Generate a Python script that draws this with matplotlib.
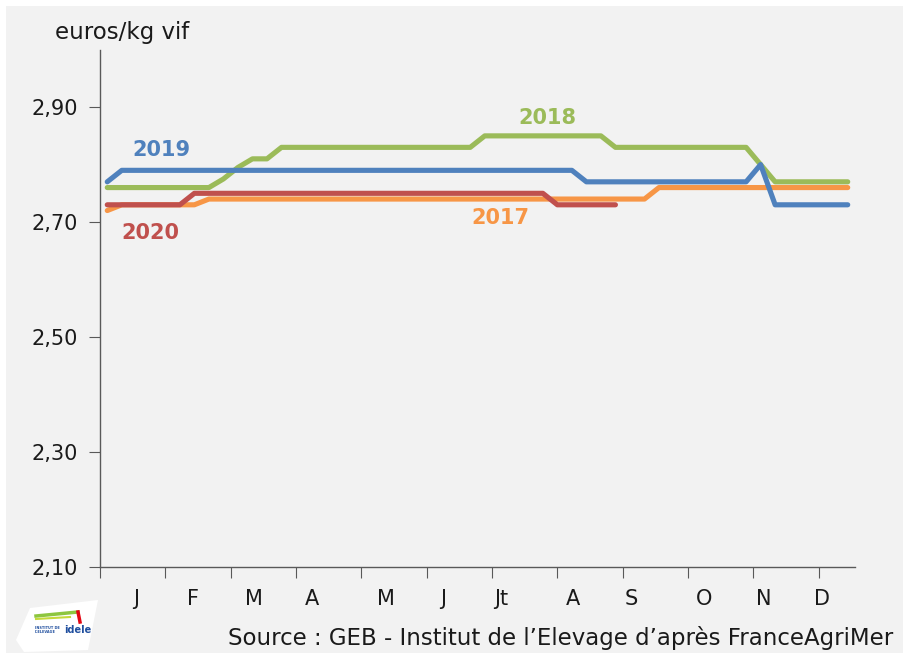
import matplotlib
matplotlib.use("Agg")
import matplotlib.pyplot as plt
from matplotlib.patches import Rectangle, Polygon

plt.rcParams['font.family'] = ['DejaVu Sans']

# ---- data (weekly prices, euros/kg vif) ----
weeks = list(range(1, 53))
prix_2017 = [2.72, 2.73, 2.73, 2.73, 2.73, 2.73, 2.73, 2.74, 2.74, 2.74,
             2.74, 2.74, 2.74, 2.74, 2.74, 2.74, 2.74, 2.74, 2.74, 2.74,
             2.74, 2.74, 2.74, 2.74, 2.74, 2.74, 2.74, 2.74, 2.74, 2.74,
             2.74, 2.74, 2.74, 2.74, 2.74, 2.74, 2.74, 2.74, 2.76, 2.76,
             2.76, 2.76, 2.76, 2.76, 2.76, 2.76, 2.76, 2.76, 2.76, 2.76,
             2.76, 2.76]
prix_2018 = [2.76, 2.76, 2.76, 2.76, 2.76, 2.76, 2.76, 2.76, 2.775, 2.795,
             2.81, 2.81, 2.83, 2.83, 2.83, 2.83, 2.83, 2.83, 2.83, 2.83,
             2.83, 2.83, 2.83, 2.83, 2.83, 2.83, 2.85, 2.85, 2.85, 2.85,
             2.85, 2.85, 2.85, 2.85, 2.85, 2.83, 2.83, 2.83, 2.83, 2.83,
             2.83, 2.83, 2.83, 2.83, 2.83, 2.80, 2.77, 2.77, 2.77, 2.77,
             2.77, 2.77]
prix_2019 = [2.77, 2.79, 2.79, 2.79, 2.79, 2.79, 2.79, 2.79, 2.79, 2.79,
             2.79, 2.79, 2.79, 2.79, 2.79, 2.79, 2.79, 2.79, 2.79, 2.79,
             2.79, 2.79, 2.79, 2.79, 2.79, 2.79, 2.79, 2.79, 2.79, 2.79,
             2.79, 2.79, 2.79, 2.77, 2.77, 2.77, 2.77, 2.77, 2.77, 2.77,
             2.77, 2.77, 2.77, 2.77, 2.77, 2.80, 2.73, 2.73, 2.73, 2.73,
             2.73, 2.73]
prix_2020 = [2.73, 2.73, 2.73, 2.73, 2.73, 2.73, 2.75, 2.75, 2.75, 2.75,
             2.75, 2.75, 2.75, 2.75, 2.75, 2.75, 2.75, 2.75, 2.75, 2.75,
             2.75, 2.75, 2.75, 2.75, 2.75, 2.75, 2.75, 2.75, 2.75, 2.75,
             2.75, 2.73, 2.73, 2.73, 2.73, 2.73]

series_names = ["2017", "2018", "2019", "2020"]
months = ["J", "F", "M", "A", "M", "J", "Jt", "A", "S", "O", "N", "D"]
month_ticks = [0, 4.5, 9, 13.5, 18, 22.5, 27, 31.5, 36, 40.5, 45, 49.5]
month_label_pos = [2.5, 6.4, 10.6, 14.6, 19.7, 23.6, 27.6, 32.6, 36.6, 41.6, 45.7, 49.7]
yticks = [2.10, 2.30, 2.50, 2.70, 2.90]

colors = {"2017": "#F79646", "2018": "#9BBB59", "2019": "#4F81BD", "2020": "#C0504D"}
label_pos = {"2019": (4.25, 2.825), "2018": (30.8, 2.881), "2020": (3.45, 2.681), "2017": (27.6, 2.707)}

W, H = 904, 657
fig = plt.figure(figsize=(W / 100, H / 100), dpi=100)
fig.patch.set_facecolor("white")
fig.patches.append(Rectangle((6 / W, (H - 653) / H), (W - 6) / W, (653 - 6) / H,
                             transform=fig.transFigure, facecolor="#F2F2F2",
                             edgecolor="none", zorder=-10))

ax = fig.add_axes([100 / W, (H - 566.7) / H, 755 / W, 517 / H])
ax.set_facecolor("none")

data = {"2017": prix_2017, "2018": prix_2018, "2019": prix_2019, "2020": prix_2020}
for name in series_names:
    vals = data[name]
    xs = [w - 0.5 for w in weeks[:len(vals)]]
    ax.plot(xs, vals, color=colors[name], lw=3.7, solid_capstyle="round",
            solid_joinstyle="round", zorder=3)
    lx, ly = label_pos[name]
    ax.text(lx, ly, name, color=colors[name], fontsize=15, fontweight="bold",
            ha="center", va="center")

ax.set_xlim(0, 52)
ax.set_ylim(2.10, 3.00)
ax.set_yticks(yticks)
ax.set_yticklabels([f"{v:.2f}".replace(".", ",") for v in yticks], fontsize=15, color="#1a1a1a")
ax.set_xticks(month_ticks)
ax.set_xticklabels([])
for pos, m in zip(month_label_pos, months):
    ax.text(pos, 2.10 - 0.9 * (32 / 517), m, ha="center", va="center",
            fontsize=15, color="#1a1a1a")

for s in ["top", "right"]:
    ax.spines[s].set_visible(False)
for s in ["left", "bottom"]:
    ax.spines[s].set_color("#595959")
    ax.spines[s].set_linewidth(1.0)
ax.tick_params(axis="y", direction="out", length=8, color="#595959", pad=8)
ax.tick_params(axis="x", direction="out", length=8, color="#595959")

fig.text(55 / W, 1 - 33 / H, "euros/kg vif", fontsize=16.5, color="#1a1a1a",
         ha="left", va="center")
fig.text(893 / W, 1 - 638 / H, "Source : GEB - Institut de l\u2019Elevage d\u2019apr\u00e8s FranceAgriMer",
         fontsize=16.5, color="#1a1a1a", ha="right", va="center")

# logo approximation
logo = Polygon([(16 / W, 1 - 640 / H), (30 / W, 1 - 608 / H), (98 / W, 1 - 600 / H),
                (88 / W, 1 - 650 / H), (24 / W, 1 - 652 / H)], closed=True,
               transform=fig.transFigure, facecolor="white", edgecolor="none", zorder=1)
fig.patches.append(logo)
fig.text(35 / W, 1 - 630 / H, "INSTITUT DE\nL'ELEVAGE", fontsize=2.5, color="#1F4E9E",
         ha="left", va="center", fontweight="bold", linespacing=1.0)
fig.text(64 / W, 1 - 630 / H, "idele", fontsize=7, color="#1F4E9E",
         ha="left", va="center", fontweight="bold")
fig.lines.append(plt.Line2D([36 / W, 78 / W], [1 - 616 / H, 1 - 612 / H],
                            transform=fig.transFigure, color="#8DC63F", lw=2.5))
fig.lines.append(plt.Line2D([36 / W, 70 / W], [1 - 619 / H, 1 - 617 / H],
                            transform=fig.transFigure, color="#C5DA3A", lw=1.5))
fig.lines.append(plt.Line2D([78 / W, 80 / W], [1 - 612 / H, 1 - 622 / H],
                            transform=fig.transFigure, color="#E30613", lw=2.5))

fig.savefig("out.png", dpi=100)
